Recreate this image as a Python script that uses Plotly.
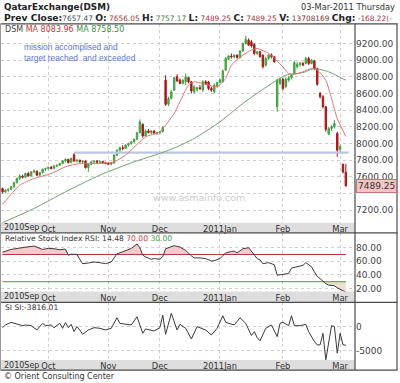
import plotly.graph_objects as go

# ---------------- data ----------------
day_index = list(range(121))
opens = [7460, 7420, 7440, 7450, 7480, 7530, 7580, 7610, 7595, 7640, 7610, 7660, 7670, 7620, 7650, 7690,
         7700, 7715, 7700, 7730, 7740, 7760, 7790, 7810, 7770, 7865, 7790, 7800, 7780, 7790, 7710, 7750,
         7780, 7790, 7775, 7785, 7770, 7760, 7750, 7765, 7860, 7920, 7950, 7940, 7980, 8000, 8020, 8050,
         8130, 8230, 8090, 8150, 8130, 8150, 8120, 8130, 8140, 8760, 8470, 8540, 8640, 8800, 8760, 8720,
         8740, 8790, 8740, 8620, 8650, 8670, 8640, 8740, 8740, 8660, 8620, 8690, 8730, 8740, 8880, 9010,
         9050, 9040, 9060, 9030, 9110, 9200, 9240, 9220, 9190, 9080, 9100, 9060, 8940, 9020, 9060, 9040,
         8440, 8720, 8770, 8680, 8760, 8790, 8840, 8920, 8950, 8960, 8960, 9020, 8960, 8990, 8900, 8600,
         8560, 8440, 8110, 8180, 8200, 8120, 7930, 7750, 7656.05]
highs = [7470, 7450, 7460, 7490, 7540, 7590, 7630, 7620, 7650, 7660, 7670, 7690, 7675, 7660, 7700, 7710,
         7720, 7730, 7740, 7745, 7770, 7800, 7820, 7815, 7830, 7885, 7810, 7805, 7800, 7795, 7760, 7790,
         7795, 7800, 7795, 7790, 7780, 7775, 7770, 7870, 7930, 7960, 7980, 7990, 8010, 8030, 8060, 8140,
         8290, 8240, 8170, 8175, 8160, 8160, 8140, 8150, 8210, 8820, 8560, 8640, 8800, 8830, 8780, 8770,
         8840, 8800, 8750, 8700, 8680, 8700, 8760, 8760, 8750, 8680, 8720, 8740, 8780, 8890, 9040, 9060,
         9080, 9070, 9070, 9120, 9210, 9290, 9260, 9240, 9200, 9110, 9110, 9070, 9040, 9070, 9080, 9050,
         8780, 8790, 8790, 8790, 8810, 8830, 8990, 8980, 8980, 8980, 9040, 9040, 9010, 9000, 8910, 8620,
         8580, 8450, 8200, 8220, 8280, 8140, 7990, 7760, 7757.17]
lows = [7400, 7400, 7420, 7440, 7470, 7520, 7560, 7580, 7590, 7600, 7605, 7640, 7610, 7615, 7640, 7670,
        7690, 7690, 7695, 7715, 7730, 7750, 7780, 7760, 7765, 7780, 7770, 7770, 7760, 7700, 7660, 7740,
        7765, 7770, 7765, 7760, 7750, 7740, 7745, 7760, 7850, 7900, 7920, 7935, 7960, 7985, 8010, 8040,
        8120, 8070, 8080, 8120, 8110, 8110, 8100, 8110, 8135, 8450, 8450, 8530, 8630, 8740, 8710, 8710,
        8700, 8720, 8600, 8600, 8620, 8640, 8620, 8700, 8640, 8620, 8600, 8670, 8720, 8730, 8870, 9000,
        9020, 9020, 9020, 9020, 9100, 9190, 9170, 9150, 9060, 9060, 9030, 8900, 8920, 9000, 9020, 8970,
        8380, 8700, 8640, 8670, 8740, 8770, 8830, 8900, 8920, 8930, 8950, 8940, 8950, 8880, 8690, 8540,
        8420, 8140, 8100, 8150, 8180, 7840, 7900, 7640, 7489.25]
closes = [7420, 7440, 7450, 7480, 7530, 7580, 7610, 7595, 7640, 7610, 7660, 7670, 7620, 7650, 7690, 7700,
          7715, 7700, 7730, 7740, 7760, 7790, 7810, 7770, 7820, 7790, 7800, 7780, 7790, 7710, 7750, 7780,
          7790, 7775, 7785, 7770, 7760, 7750, 7765, 7860, 7920, 7950, 7940, 7980, 8000, 8020, 8050, 8130,
          8260, 8090, 8150, 8130, 8150, 8120, 8130, 8140, 8190, 8470, 8540, 8620, 8790, 8750, 8720, 8760,
          8800, 8740, 8630, 8680, 8670, 8660, 8740, 8720, 8660, 8640, 8700, 8730, 8760, 8870, 9020, 9050,
          9040, 9060, 9030, 9110, 9200, 9250, 9180, 9170, 9080, 9100, 9040, 8920, 9020, 9060, 9040, 8980,
          8760, 8770, 8660, 8770, 8790, 8820, 8970, 8950, 8960, 8940, 9020, 8960, 9000, 8900, 8710, 8560,
          8440, 8170, 8180, 8200, 8240, 7920, 7960, 7657.47, 7489.25]

ma_short_idx = [0, 3, 6, 11, 17, 22, 27, 34, 39, 43, 48, 50, 55, 57, 60, 62, 65, 67, 72, 75, 78, 80,
                84, 87, 89, 93, 95, 98, 100, 102, 105, 108, 110, 113, 115, 117, 120]
ma_short_val = [7270, 7390, 7500, 7580, 7640, 7720, 7760, 7760, 7780, 7860, 8020, 8080, 8140, 8220, 8360,
                8500, 8700, 8740, 8700, 8680, 8780, 8940, 9060, 9120, 9140, 9080, 9020, 8920, 8840, 8830,
                8860, 8900, 8880, 8760, 8540, 8300, 8083.96]
ma_long_idx = [0, 11, 22, 34, 46, 55, 61, 67, 76, 84, 91, 99, 105, 109, 114, 120]
ma_long_val = [7050, 7220, 7420, 7620, 7780, 7880, 7960, 8060, 8260, 8480, 8650, 8820, 8850, 8900, 8860,
               8758.50]

resist_idx = [25, 121]
resist_val = [7890, 7890]

rsi_idx = [0, 3, 6, 9, 11, 14, 16, 18, 20, 22, 23, 24, 26, 27, 28, 30, 32, 34, 36, 38, 39, 40, 42, 43,
           45, 47, 48, 49, 50, 52, 53, 55, 56, 57, 58, 60, 62, 64, 66, 67, 69, 71, 73, 74, 76, 78, 80,
           81, 82, 84, 86, 87, 88, 89, 90, 91, 93, 94, 95, 96, 97, 99, 100, 101, 102, 104, 105, 106,
           107, 108, 109, 110, 111, 112, 113, 114, 115, 116, 117, 118, 119, 120]
rsi_val = [73.5, 77.5, 79.5, 81, 82.5, 77.5, 79, 78.5, 77, 78, 69, 70.5, 70, 63, 56.5, 57.5, 59, 58, 56.5,
           59, 66, 71, 74, 76, 79, 85.5, 80, 69, 66.5, 63, 64, 63, 67, 78.5, 80, 83, 81, 76, 68, 65, 65,
           64, 60.5, 61, 64, 72.5, 74.5, 75, 72.5, 78.5, 80, 75, 70, 64, 62, 56.5, 58, 57, 55, 39.5, 40,
           40.5, 42, 50, 51, 53, 54, 58, 55, 52, 44.5, 38, 34.5, 31, 27, 25, 24.5, 24, 21, 19, 17.5, 14.48]
rsi_upper = 70
rsi_lower = 30

si_idx = [0, 1, 3, 5, 7, 8, 10, 12, 14, 15, 17, 18, 20, 21, 22, 23, 24, 25, 26, 27, 28, 30, 32, 34, 36,
          38, 40, 41, 43, 45, 47, 48, 49, 50, 52, 53, 55, 56, 57, 58, 59, 61, 62, 64, 66, 68, 71, 73,
          75, 77, 78, 81, 83, 85, 87, 88, 89, 90, 92, 94, 95, 96, 97, 98, 100, 101, 102, 104, 106, 107,
          109, 110, 111, 112, 113, 114, 115, 116, 117, 118, 119, 120]
si_val = [-140, 420, 970, 555, 280, 420, 280, -625, 765, 280, 420, -140, 765, -280, 900, -140, 555, -970,
          70, -625, -1530, -625, -140, -280, -625, -280, 1940, 765, 555, 420, 2150, 280, -1320, -420,
          -625, -830, -140, 2500, -1530, 765, 2850, -625, 555, -280, -2500, 70, -625, -1670, -280, 2360,
          970, 420, 1940, 765, -1800, -970, -2220, -2900, -280, 420, -970, -2010, 765, 970, 280, 2360,
          280, 280, 555, -970, -3050, -3750, -3750, -1320, -6870, -3050, 280, 70, -5480, -1320, -3750,
          -3816.01]

month_idx = [16, 37, 55, 76, 98, 118]
month_labels = ['Oct', 'Nov', 'Dec', '2011Jan', 'Feb', 'Mar']
first_label = '2010Sep'
price_ticks = [7200, 7400, 7600, 7800, 8000, 8200, 8400, 8600, 8800, 9000, 9200]
rsi_ticks = [20, 40, 60, 80]
si_ticks = [-5000, 0]
last_close = closes[-1]

# ---------------- helpers ----------------
W, H = 400, 383


def px(x):
    return x / W


def py(y):
    return 1 - y / H


FONT = 'DejaVu Sans'
GRID = '#cfcfcf'

fig = go.Figure()

# main panel
fig.add_trace(go.Candlestick(
    x=day_index, open=opens, high=highs, low=lows, close=closes,
    xaxis='x', yaxis='y', whiskerwidth=0, showlegend=False, hoverinfo='skip',
    increasing=dict(line=dict(color='#43a043', width=1), fillcolor='#5bb85b'),
    decreasing=dict(line=dict(color='#a81818', width=1), fillcolor='#b01c1c')))
fig.add_trace(go.Scatter(x=resist_idx, y=resist_val, mode='lines', xaxis='x', yaxis='y',
                         line=dict(color='#bac7e0', width=2.2), hoverinfo='skip', showlegend=False))
fig.add_trace(go.Scatter(x=ma_long_idx, y=ma_long_val, mode='lines', xaxis='x', yaxis='y',
                         line=dict(color='#6da36d', width=1, shape='spline', smoothing=0.6),
                         hoverinfo='skip', showlegend=False))
fig.add_trace(go.Scatter(x=ma_short_idx, y=ma_short_val, mode='lines', xaxis='x', yaxis='y',
                         line=dict(color='#e07474', width=1, shape='spline', smoothing=0.6),
                         hoverinfo='skip', showlegend=False))


def clipped(xs, vs, level, above):
    ox, oy = [], []
    for k in range(len(xs)):
        if k > 0:
            v0, v1 = vs[k - 1], vs[k]
            if (v0 - level) * (v1 - level) < 0:
                t = (level - v0) / (v1 - v0)
                ox.append(xs[k - 1] + t * (xs[k] - xs[k - 1]))
                oy.append(level)
        ox.append(xs[k])
        oy.append(max(vs[k], level) if above else min(vs[k], level))
    return ox, oy


for level, above, col in [(rsi_upper, True, '#f5caca'), (rsi_lower, False, '#f1ddd2')]:
    cx, cy = clipped(rsi_idx, rsi_val, level, above)
    fig.add_trace(go.Scatter(x=cx, y=[level] * len(cx), mode='lines', xaxis='x2', yaxis='y2',
                             line=dict(width=0), hoverinfo='skip', showlegend=False))
    fig.add_trace(go.Scatter(x=cx, y=cy, mode='lines', xaxis='x2', yaxis='y2', fill='tonexty',
                             fillcolor=col, line=dict(width=0), hoverinfo='skip', showlegend=False))

fig.add_trace(go.Scatter(x=[rsi_idx[0], rsi_idx[-1]], y=[rsi_upper] * 2, mode='lines', xaxis='x2',
                         yaxis='y2', line=dict(color='#b03838', width=1), hoverinfo='skip',
                         showlegend=False))
fig.add_trace(go.Scatter(x=[rsi_idx[0], rsi_idx[-1]], y=[rsi_lower] * 2, mode='lines', xaxis='x2',
                         yaxis='y2', line=dict(color='#3e9e3e', width=1), hoverinfo='skip',
                         showlegend=False))
fig.add_trace(go.Scatter(x=rsi_idx, y=rsi_val, mode='lines', xaxis='x2', yaxis='y2',
                         line=dict(color='#3a3a3a', width=1), hoverinfo='skip', showlegend=False))

fig.add_trace(go.Scatter(x=si_idx, y=si_val, mode='lines', xaxis='x3', yaxis='y3',
                         line=dict(color='#3a3a3a', width=1), hoverinfo='skip', showlegend=False))

xr = [-0.54, 123.2]
xcommon = dict(range=xr, domain=[px(1), px(355)], tickvals=month_idx, ticktext=month_labels,
               showgrid=True, gridcolor=GRID, griddash='dot', gridwidth=1, zeroline=False,
               showline=False, ticks='', tickfont=dict(family=FONT, size=8.3, color='#333'),
               fixedrange=True)
ycommon = dict(side='right', showgrid=True, gridcolor=GRID, griddash='dot', gridwidth=1,
               zeroline=False, showline=False, ticks='',
               tickfont=dict(family=FONT, size=9, color='#444'), fixedrange=True)

price_text = ['' if v == 7400 else f'{v:.2f}' for v in price_ticks]

fig.update_layout(
    width=W, height=H, margin=dict(l=0, r=0, t=0, b=0),
    paper_bgcolor='white', plot_bgcolor='white', hovermode=False, showlegend=False,
    xaxis=dict(anchor='y', rangeslider=dict(visible=False), **xcommon),
    xaxis2=dict(anchor='y2', **xcommon),
    xaxis3=dict(anchor='y3', **xcommon),
    yaxis=dict(anchor='x', domain=[py(224), py(24)], range=[7048, 9435],
               tickvals=price_ticks, ticktext=price_text, **ycommon),
    yaxis2=dict(anchor='x2', domain=[py(293), py(234)], range=[15.6, 102],
                tickvals=rsi_ticks, ticktext=[f'{v:.2f}' for v in rsi_ticks], **ycommon),
    yaxis3=dict(anchor='x3', domain=[py(362), py(304)], range=[-6938, 5146],
                tickvals=si_ticks, ticktext=[str(v) for v in si_ticks], **ycommon),
)

shapes = []
# grey date bands
for y0, y1 in [(224, 233.5), (293, 303.5), (362, 372)]:
    shapes.append(dict(type='rect', xref='paper', yref='paper', x0=px(1), x1=px(355),
                       y0=py(y1), y1=py(y0), fillcolor='#dedede', line=dict(width=0), layer='below'))
# frame lines
for y in [24, 234, 304, 372]:
    shapes.append(dict(type='line', xref='paper', yref='paper', x0=px(0.5), x1=px(397.5),
                       y0=py(y), y1=py(y), line=dict(color='#4a4a4a', width=1.2)))
for x in [355, 397]:
    shapes.append(dict(type='line', xref='paper', yref='paper', x0=px(x), x1=px(x),
                       y0=py(24), y1=py(372), line=dict(color='#4a4a4a', width=1.2)))
shapes.append(dict(type='line', xref='paper', yref='paper', x0=px(0.5), x1=px(0.5),
                   y0=py(24), y1=py(372), line=dict(color='#9a9a9a', width=1)))
fig.update_layout(shapes=shapes)


def ann(text, x, y, size, color='#333', xanchor='left', family=FONT, **kw):
    fig.add_annotation(text=text, xref='paper', yref='paper', x=px(x), y=py(y), xanchor=xanchor,
                       yanchor='middle', showarrow=False,
                       font=dict(family=family, size=size, color=color), **kw)


def lab(t):
    return f'<b><span style="font-size:9.2px;color:#222">{t}</span></b>'


def val(t, c):
    return f'<span style="color:{c}">{t}</span>'


ann('<b>QatarExchange(DSM)</b>', 1.5, 7.5, 8.8, '#222')
ann('03-Mar-2011 Thursday', 397, 7.5, 8.3, '#333', xanchor='right')
prev_line = (lab('Prev Close:') + val('7657.47', '#4e5260') + ' ' + lab('O:') + ' ' +
             val('7656.05', '#9c3c3c') + ' ' + lab('H:') + ' ' + val('7757.17', '#4a7f4a') + ' ' +
             lab('L:') + ' ' + val('7489.25', '#9c3c3c') + ' ' + lab('C:') + ' ' +
             val('7489.25', '#9c3c3c') + ' ' + lab('V:') + ' ' + val('13708169', '#7a3030') + ' ' +
             lab('Chg:') + ' ' + val('-168.22(-', '#9c3c3c'))
ann(prev_line, 1.5, 17.5, 7.4, '#444')

ann('DSM ' + val('MA 8083.96', '#c23a3a') + ' ' + val('MA 8758.50', '#3f8f3f'), 3, 29.5, 8, '#444')
ann('mission accomplised and', 22, 47, 8.4, '#5a78cc', family='Liberation Sans')
ann('target reached  and exceeded', 22, 58, 8.4, '#5a78cc', family='Liberation Sans')
ann('www.asmainfo.com', 199, 199, 9.5, '#cccccc', xanchor='center')

ann('Relative Stock Index RSI: 14.48 ' + val('70.00', '#c23a3a') + ' ' + val('30.00', '#3f9a3f'),
    3, 239.5, 7.6, '#333')
ann('SI SI:-3816.01', 3, 309, 7.6, '#333')
ann('© Orient Consulting Center', 1.5, 378, 8, '#333')

for yb in [229, 298.5, 367]:
    ann(first_label, 1.5, yb, 8.0, '#333')

fig.add_annotation(text=f'{last_close:.2f}', xref='paper', yref='y', x=px(356), y=last_close,
                   xanchor='left', yanchor='middle', showarrow=False,
                   font=dict(family=FONT, size=9, color='#333'),
                   bgcolor='#f4c4c4', bordercolor='#cc7070', borderwidth=1, borderpad=1)

fig.write_html('out.html', config={'displayModeBar': False},
               post_script="document.body.style.margin='0';document.body.style.overflow='hidden';")
